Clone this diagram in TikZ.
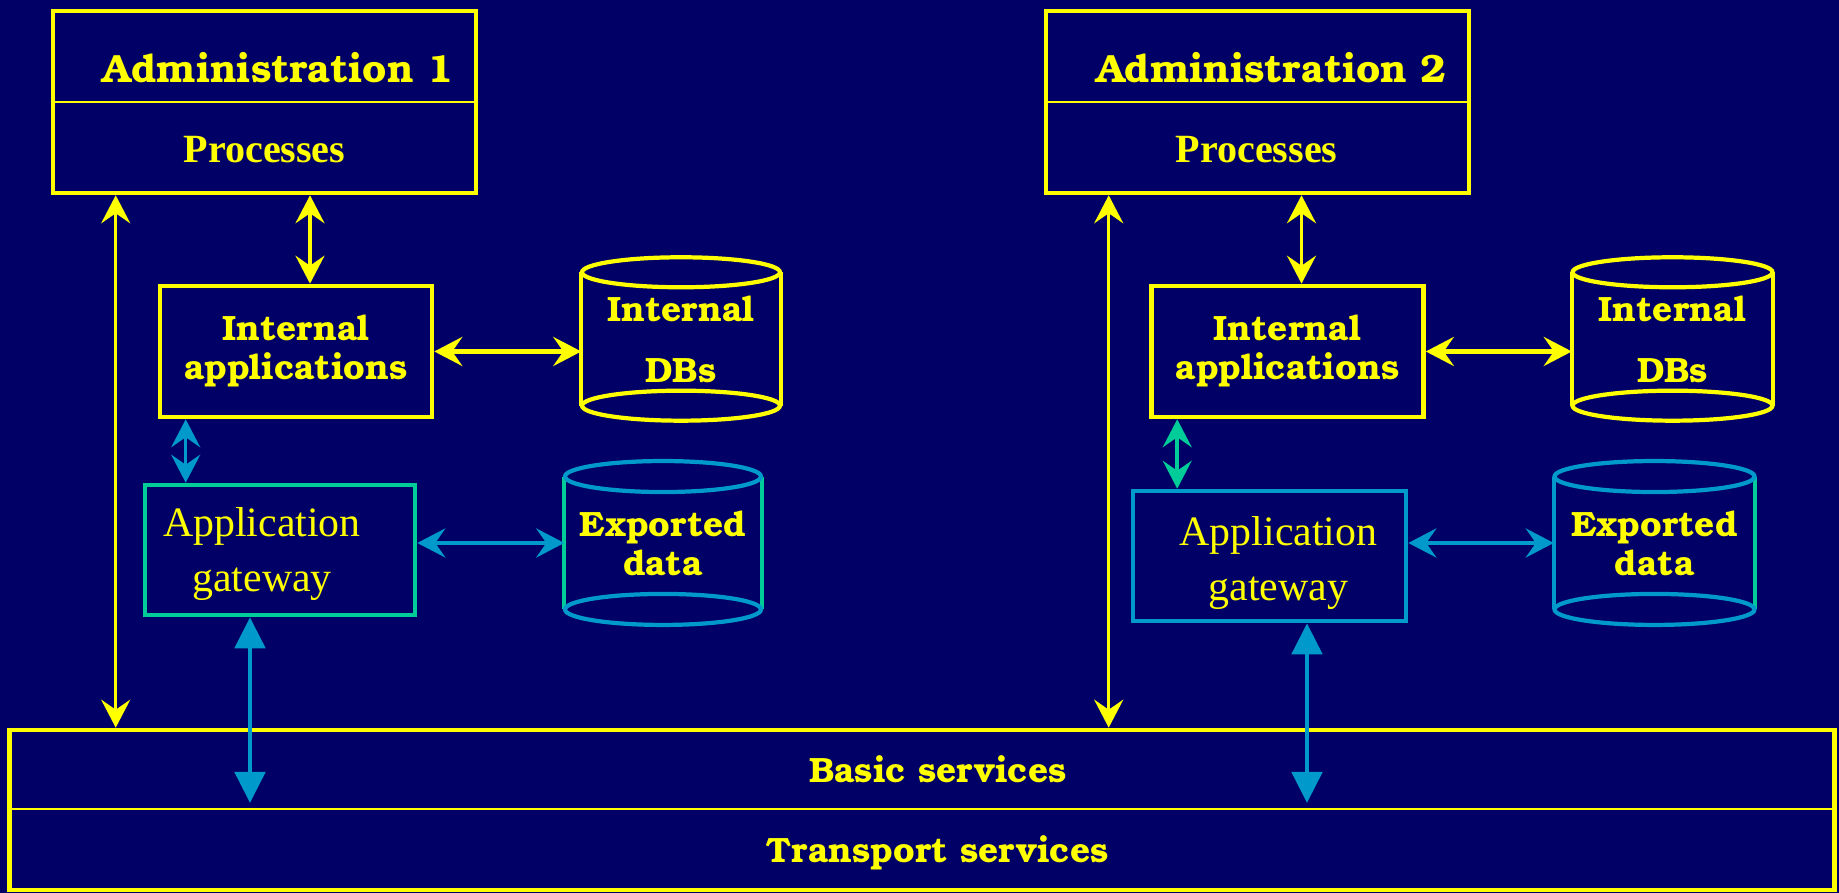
\documentclass[tikz,border=0pt]{standalone}
\usepackage{fontspec}
\setmainfont{Liberation Serif}
\newfontfamily\bookfont{TeX Gyre Bonum}
\usetikzlibrary{arrows.meta}
\definecolor{navy}{RGB}{0,0,102}
\definecolor{gold}{RGB}{255,255,0}
\definecolor{sky}{RGB}{0,153,204}
\definecolor{mint}{RGB}{0,204,153}

\begin{document}
\begin{tikzpicture}[
	square/.style={rectangle, draw=gold, line width=1.3pt, inner sep=0pt},
	drum/.style={rectangle, inner sep=0pt, align=center},
	slab/.style={font=\bookfont\bfseries\fontsize{10}{11.1}\selectfont, text=gold, inner sep=0pt, align=center},
	head/.style={font=\bookfont\bfseries\fontsize{11.2}{12}\selectfont, text=gold, inner sep=0pt},
	bold/.style={font=\bfseries\fontsize{11.4}{13}\selectfont, text=gold, inner sep=0pt},
	roman/.style={font=\fontsize{11.9}{15.5}\selectfont, text=gold, inner sep=0pt, align=center},
	rim/.style={line width=1.2pt},
	divider/.style={draw=gold, line width=0.8pt},
	>={Stealth[length=2.8mm, width=2.9mm, inset=1mm]},
	bigarrow/.style={draw=sky, line width=1.4pt, {Triangle[length=3.1mm, width=3mm]}-{Triangle[length=3.1mm, width=3mm]}}]
	
	\useasboundingbox (0,0) rectangle (18.39,8.93);
	\fill[navy] (0,0) rectangle (18.39,8.93);
	
	%Administrations
	\node[square, minimum width=4.23cm, minimum height=1.82cm]	(adm1)	at (2.645,7.91)	{};
	\node[square, minimum width=4.23cm, minimum height=1.82cm]	(adm2)	at (12.575,7.91)	{};
	\draw[divider] (adm1.west) -- (adm1.east);
	\draw[divider] (adm2.west) -- (adm2.east);
	\node[head, anchor=base]	(title1)	at (2.78,8.10)	{Administration 1};
	\node[head, anchor=base]	(title2)	at (12.715,8.10)	{Administration 2};
	\node[bold, anchor=base]	(proc1)	at (2.645,7.30)	{Processes};
	\node[bold, anchor=base]	(proc2)	at (12.565,7.30)	{Processes};
	
	%Internal applications
	\node[square, slab, minimum width=2.72cm, minimum height=1.31cm]	(int1)	at (2.96,5.415)	{Internal\\applications};
	\node[square, slab, minimum width=2.72cm, minimum height=1.31cm]	(int2)	at (12.875,5.415)	{Internal\\applications};
	
	%Gateways
	\node[square, draw=mint, minimum width=2.70cm, minimum height=1.30cm]	(gw1)	at (2.80,3.43)	{};
	\node[square, draw=sky, minimum width=2.73cm, minimum height=1.30cm]	(gw2)	at (12.695,3.37)	{};
	\node[roman]	(gwtext1)	at (2.62,3.39)	{Application\\gateway};
	\node[roman]	(gwtext2)	at (12.785,3.30)	{Application\\gateway};
	
	%Databases
	\node[drum, slab, minimum width=1.98cm, minimum height=1.32cm]	(idb1)	at (6.81,5.54)	{Internal\\[0.22cm]DBs};
	\node[drum, slab, minimum width=2.00cm, minimum height=1.32cm]	(idb2)	at (16.725,5.54)	{Internal\\[0.22cm]DBs};
	\node[drum, slab, minimum width=1.96cm, minimum height=1.315cm]	(exp1)	at (6.63,3.50)	{Exported\\data};
	\node[drum, slab, minimum width=2.00cm, minimum height=1.315cm]	(exp2)	at (16.545,3.50)	{Exported\\data};
	
	\draw[rim, gold] (idb1.north west) -- (idb1.south west) (idb1.north east) -- (idb1.south east);
	\draw[rim, gold] (idb1.north) ellipse [x radius=0.99, y radius=0.15] (idb1.south) ellipse [x radius=0.99, y radius=0.15];
	\draw[rim, gold] (idb2.north west) -- (idb2.south west) (idb2.north east) -- (idb2.south east);
	\draw[rim, gold] (idb2.north) ellipse [x radius=1.00, y radius=0.15] (idb2.south) ellipse [x radius=1.00, y radius=0.15];
	\draw[rim, mint] (exp1.north west) -- (exp1.south west) (exp1.north east) -- (exp1.south east);
	\draw[rim, sky] (exp1.north) ellipse [x radius=0.98, y radius=0.155] (exp1.south) ellipse [x radius=0.98, y radius=0.155];
	\draw[rim, sky] (exp2.north west) -- (exp2.south west);
	\draw[rim, mint] (exp2.north east) -- (exp2.south east);
	\draw[rim, sky] (exp2.north) ellipse [x radius=1.00, y radius=0.155] (exp2.south) ellipse [x radius=1.00, y radius=0.155];
	
	%Services
	\node[square, minimum width=18.255cm, minimum height=1.60cm]	(services)	at (9.22,0.83)	{};
	\draw[divider] (services.west |- 0,0.84) -- (services.east |- 0,0.84);
	\node[slab, anchor=base]	(basic)	at (9.38,1.10)	{Basic services};
	\node[slab, anchor=base]	(transport)	at (9.375,0.30)	{Transport services};
	\coordinate (drop1) at (2.50,0.90);
	\coordinate (drop2) at (13.07,0.90);
	
	%Lines
	\draw[gold, line width=1pt, <->] ([xshift=0.65cm]adm1.south west) -- ([xshift=0.65cm]adm1.south west |- services.north);
	\draw[gold, line width=1pt, <->] ([xshift=0.65cm]adm2.south west) -- ([xshift=0.65cm]adm2.south west |- services.north);
	\draw[gold, line width=1pt, <->] ([xshift=0.14cm]int1.north |- adm1.south) -- ([xshift=0.14cm]int1.north);
	\draw[gold, line width=1pt, <->] ([xshift=0.14cm]int2.north |- adm2.south) -- ([xshift=0.14cm]int2.north);
	\draw[gold, line width=1.4pt, <->] (int1.east) -- (int1.east -| idb1.west);
	\draw[gold, line width=1.4pt, <->] (int2.east) -- (int2.east -| idb2.west);
	\draw[sky, line width=1pt, <->] ([xshift=0.28cm]int1.south west) -- ([xshift=0.28cm]int1.south west |- gw1.north);
	\draw[mint, line width=1pt, <->] ([xshift=0.28cm]int2.south west) -- ([xshift=0.28cm]int2.south west |- gw2.north);
	\draw[sky, line width=1.4pt, <->] (gw1.east |- exp1.west) -- (exp1.west);
	\draw[sky, line width=1.4pt, <->] (gw2.east |- exp2.west) -- (exp2.west);
	\draw[bigarrow] (drop1 |- gw1.south) -- (drop1);
	\draw[bigarrow] (drop2 |- gw2.south) -- (drop2);
\end{tikzpicture}
\end{document}
